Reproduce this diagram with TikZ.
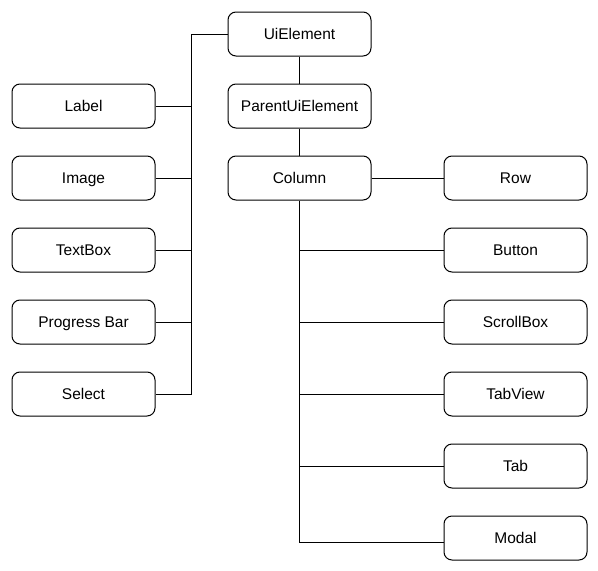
\documentclass[tikz,border=0pt]{standalone}
\usepackage{fontspec}
\setmainfont{Liberation Sans}
\begin{document}
\begin{tikzpicture}[x=1pt,y=-1pt,
  box/.style={draw,rounded corners=8pt,minimum width=143pt,minimum height=44pt,inner sep=0pt,text height=10pt,text depth=0pt,line width=1pt,font=\fontsize{15.5}{18}\selectfont},
  conn/.style={line width=1pt}]
\useasboundingbox (0,0) rectangle (598,571);
\node[box] (ui) at (299.5,34) {UiElement};
\node[box] (pui) at (299.5,106) {ParentUiElement};
\node[box] (col) at (299.5,178) {Column};
\node[box] (label) at (83.5,106) {Label};
\node[box] (image) at (83.5,178) {Image};
\node[box] (text) at (83.5,250) {TextBox};
\node[box] (prog) at (83.5,322) {Progress Bar};
\node[box] (sel) at (83.5,394) {Select};
\node[box] (row) at (515.5,178) {Row};
\node[box] (btn) at (515.5,250) {Button};
\node[box] (scroll) at (515.5,322) {ScrollBox};
\node[box] (tabv) at (515.5,394) {TabView};
\node[box] (tab) at (515.5,466) {Tab};
\node[box] (modal) at (515.5,538) {Modal};
\coordinate (lt) at (191,34);
\coordinate (lb) at (191,394);
\draw[conn] (ui.west) -- (lt) -- (lb) -- (sel.east);
\foreach \n in {label,image,text,prog} \draw[conn] (\n.east) -- (lt |- \n.east);
\draw[conn] (ui) -- (pui);
\draw[conn] (pui) -- (col);
\draw[conn] (col) -- (row);
\coordinate (cb) at (299.5,542);
\draw[conn] (col.south) -- (cb) -- (cb -| modal.west);
\foreach \n in {btn,scroll,tabv,tab} \draw[conn] (\n.west) -- (col.south |- \n.west);
\end{tikzpicture}
\end{document}
